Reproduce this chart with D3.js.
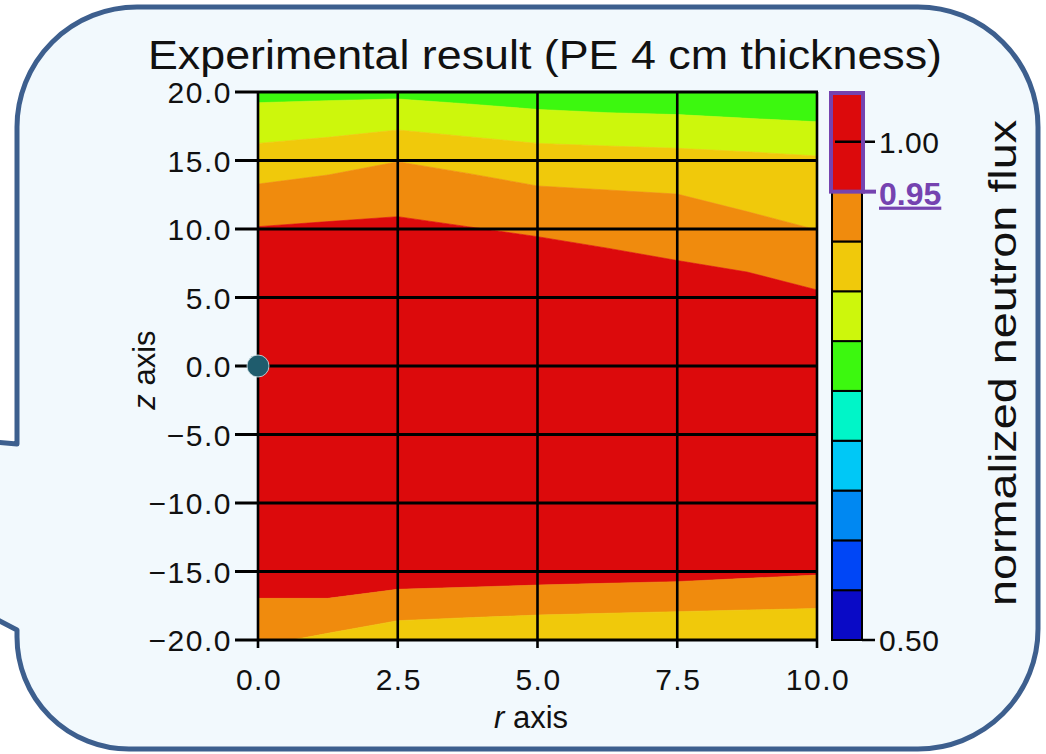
<!DOCTYPE html>
<html><head><meta charset="utf-8">
<script src="https://cdn.jsdelivr.net/npm/d3@7"></script>
<style>
html,body{margin:0;padding:0;background:#ffffff;}
svg{display:block;}
text{font-family:"Liberation Sans",Arial,sans-serif;fill:#111;}
</style></head>
<body>
<svg id="chart" width="1046" height="754"></svg>
<script>
// ---------------- data ----------------
const titleText = "Experimental result (PE 4 cm thickness)";
const rTicks = [0, 2.5, 5, 7.5, 10];
const zTicks = [20, 15, 10, 5, 0, -5, -10, -15, -20];
// r positions where the contour boundaries were read
const rSamples = [0, 1.25, 2.5, 3.75, 5, 6.25, 7.5, 8.75, 10];
// z position of each contour boundary (upper half)
const zTop080 = [19.22, 19.37, 19.49, 19.13, 18.73, 18.49, 18.35, 18.08, 17.83];
const zTop085 = [16.25, 16.69, 17.23, 16.74, 16.25, 16.06, 15.89, 15.64, 15.33];
const zTop090 = [13.28, 13.94, 14.91, 14.06, 13.14, 12.85, 12.55, 11.27, 9.93];
const zTop095 = [10.17, 10.54, 10.90, 10.17, 9.44, 8.60, 7.70, 6.86, 5.55];
// z position of each contour boundary (lower half)
const zBot095 = [-16.96, -16.96, -16.30, -16.15, -15.99, -15.86, -15.74, -15.50, -15.26];
const zBot090 = [-20.46, -19.51, -18.59, -18.37, -18.18, -18.05, -17.93, -17.81, -17.70];
// colour bar
const levelEdges = [0.50, 0.55, 0.60, 0.65, 0.70, 0.75, 0.80, 0.85, 0.90, 0.95, 1.05];
const levelColors = ["#0a0ac6", "#0046f6", "#0088f2", "#00c8f6", "#00f5c8",
                     "#3cf80f", "#cdf70c", "#f0c90b", "#f08b0d", "#dc0a0c"];
const cbTicks = [1.00, 0.95, 0.50];
const cbTitle = "normalized neutron flux";
const sourcePoint = {r: 0, z: 0};

// ---------------- layout ----------------
const svg = d3.select("#chart");
const x = d3.scaleLinear().domain([0, 10]).range([258, 817]);
const y = d3.scaleLinear().domain([-20, 20]).range([640, 92]);
const cy = d3.scaleLinear().domain([0.50, 1.05]).range([640, 92]);
const colorOf = v => levelColors[d3.bisectRight(levelEdges, v) - 1];

// ---------------- speech bubble ----------------
(function bubble(){
  const L = 17, R = 1038, T = 7, B = 749, r = 120, rbl = 112;
  const p = d3.path();
  p.moveTo(L + r, T);
  p.lineTo(R - r, T);
  p.arcTo(R, T, R, T + r, r);
  p.lineTo(R, B - r);
  p.arcTo(R, B, R - r, B, r);
  p.lineTo(L + rbl, B);
  p.arcTo(L, B, L, B - rbl, rbl);
  p.lineTo(L, 630);
  p.lineTo(-6, 618);
  p.lineTo(-6, 442);
  p.lineTo(L, 444);
  p.lineTo(L, T + r);
  p.arcTo(L, T, L + r, T, r);
  p.closePath();
  svg.append("path").attr("d", p.toString())
    .attr("fill", "#f2f9fd").attr("stroke", "#3d5f8e").attr("stroke-width", 5)
    .attr("stroke-linejoin", "round");
})();

// ---------------- title ----------------
svg.append("text").attr("x", 148).attr("y", 69)
  .attr("font-size", 40).attr("textLength", 794).attr("lengthAdjust", "spacingAndGlyphs")
  .text(titleText);

// ---------------- contour bands ----------------
svg.append("clipPath").attr("id", "plotclip").append("rect")
  .attr("x", x(0)).attr("y", y(20)).attr("width", x(10) - x(0)).attr("height", y(-20) - y(20));

const zMaxArr = rSamples.map(() => 20);
const zMinArr = rSamples.map(() => -20.8);
const bands = [
  {upper: zMaxArr, lower: zTop080, level: 0.775},
  {upper: zTop080, lower: zTop085, level: 0.825},
  {upper: zTop085, lower: zTop090, level: 0.875},
  {upper: zTop090, lower: zTop095, level: 0.925},
  {upper: zTop095, lower: zBot095, level: 1.00},
  {upper: zBot095, lower: zBot090, level: 0.925},
  {upper: zBot090, lower: zMinArr, level: 0.875}
];
const area = d3.area()
  .x((d, i) => x(rSamples[i]))
  .y0(d => y(d[1]))
  .y1(d => y(d[0]));
const gPlot = svg.append("g").attr("clip-path", "url(#plotclip)");
gPlot.selectAll("path.band").data(bands).join("path")
  .attr("class", "band")
  .attr("d", b => area(rSamples.map((_, i) => [b.upper[i], b.lower[i]])))
  .attr("fill", b => colorOf(b.level))
  .attr("stroke", b => colorOf(b.level)).attr("stroke-width", 0.6);

// ---------------- grid lines / ticks ----------------
svg.append("g").selectAll("line").data(rTicks).join("line")
  .attr("x1", d => x(d)).attr("x2", d => x(d))
  .attr("y1", y(20)).attr("y2", y(-20) + 8)
  .attr("stroke", "#000").attr("stroke-width", 2.6);
svg.append("g").selectAll("line").data(zTicks).join("line")
  .attr("x1", 235).attr("x2", x(10) + 1)
  .attr("y1", d => y(d)).attr("y2", d => y(d))
  .attr("stroke", "#000").attr("stroke-width", 3);

const fmt = d => d3.format(".1f")(d).replace("-", "\u2212");
svg.append("g").selectAll("text").data(zTicks).join("text")
  .attr("x", 232).attr("y", d => y(d) + 11)
  .attr("text-anchor", "end").attr("font-size", 30).attr("letter-spacing", 1.5)
  .text(fmt);
svg.append("g").selectAll("text").data(rTicks).join("text")
  .attr("x", d => x(d) + 1).attr("y", 690)
  .attr("text-anchor", "middle").attr("font-size", 30).attr("letter-spacing", 1.5)
  .text(fmt);

// axis titles
const rt = svg.append("text").attr("x", 531).attr("y", 728).attr("text-anchor", "middle")
  .attr("font-size", 31);
rt.append("tspan").attr("font-style", "italic").text("r");
rt.append("tspan").text(" axis");
const zt = svg.append("text").attr("transform", "translate(155,370) rotate(-90)")
  .attr("text-anchor", "middle").attr("font-size", 31);
zt.append("tspan").attr("font-style", "italic").text("z");
zt.append("tspan").text(" axis");

// source point
svg.append("circle").attr("cx", x(sourcePoint.r)).attr("cy", y(sourcePoint.z)).attr("r", 11)
  .attr("fill", "#1f5c6d").attr("stroke", "#d8e6ea").attr("stroke-width", 0.8);

// ---------------- colour bar ----------------
const cbX = 832, cbW = 30;
const cbBands = levelColors.map((c, i) => ({lo: levelEdges[i], hi: levelEdges[i + 1], c}));
svg.append("g").selectAll("rect").data(cbBands).join("rect")
  .attr("x", cbX).attr("width", cbW)
  .attr("y", d => cy(d.hi)).attr("height", d => cy(d.lo) - cy(d.hi))
  .attr("fill", d => d.c).attr("stroke", "#000").attr("stroke-width", 2);
// tick 1.00 (crosses the bar)
svg.append("line").attr("x1", cbX + 3).attr("x2", cbX + cbW + 13)
  .attr("y1", cy(1.00)).attr("y2", cy(1.00)).attr("stroke", "#000").attr("stroke-width", 2.5);
// tick 0.50
svg.append("line").attr("x1", cbX + cbW).attr("x2", cbX + cbW + 13)
  .attr("y1", cy(0.50)).attr("y2", cy(0.50)).attr("stroke", "#000").attr("stroke-width", 2.5);
// highlight box for >= 0.95
const purple = "#7543b0";
svg.append("rect").attr("x", cbX - 1).attr("y", cy(1.05) + 1)
  .attr("width", cbW + 2).attr("height", cy(0.95) - cy(1.05) - 1)
  .attr("fill", "none").attr("stroke", purple).attr("stroke-width", 4);
svg.append("line").attr("x1", cbX + cbW).attr("x2", cbX + cbW + 14)
  .attr("y1", cy(0.95)).attr("y2", cy(0.95)).attr("stroke", purple).attr("stroke-width", 4);

svg.append("text").attr("x", 879).attr("y", cy(1.00) + 11)
  .attr("font-size", 30).attr("letter-spacing", 0.5).text(d3.format(".2f")(1.00));
svg.append("text").attr("x", 879).attr("y", cy(0.50) + 11)
  .attr("font-size", 30).attr("letter-spacing", 0.5).text(d3.format(".2f")(0.50));
svg.append("text").attr("x", 879).attr("y", cy(0.95) + 13)
  .attr("font-size", 32).attr("font-weight", "bold")
  .attr("font-family", "'Liberation Serif','DejaVu Serif',serif")
  .style("fill", purple).attr("text-decoration", "underline")
  .text(d3.format(".2f")(0.95));

// colour bar title
svg.append("text").attr("transform", "translate(1016,363) rotate(-90)")
  .attr("text-anchor", "middle").attr("font-size", 38)
  .attr("textLength", 486).attr("lengthAdjust", "spacingAndGlyphs")
  .text(cbTitle);
</script>
</body></html>
